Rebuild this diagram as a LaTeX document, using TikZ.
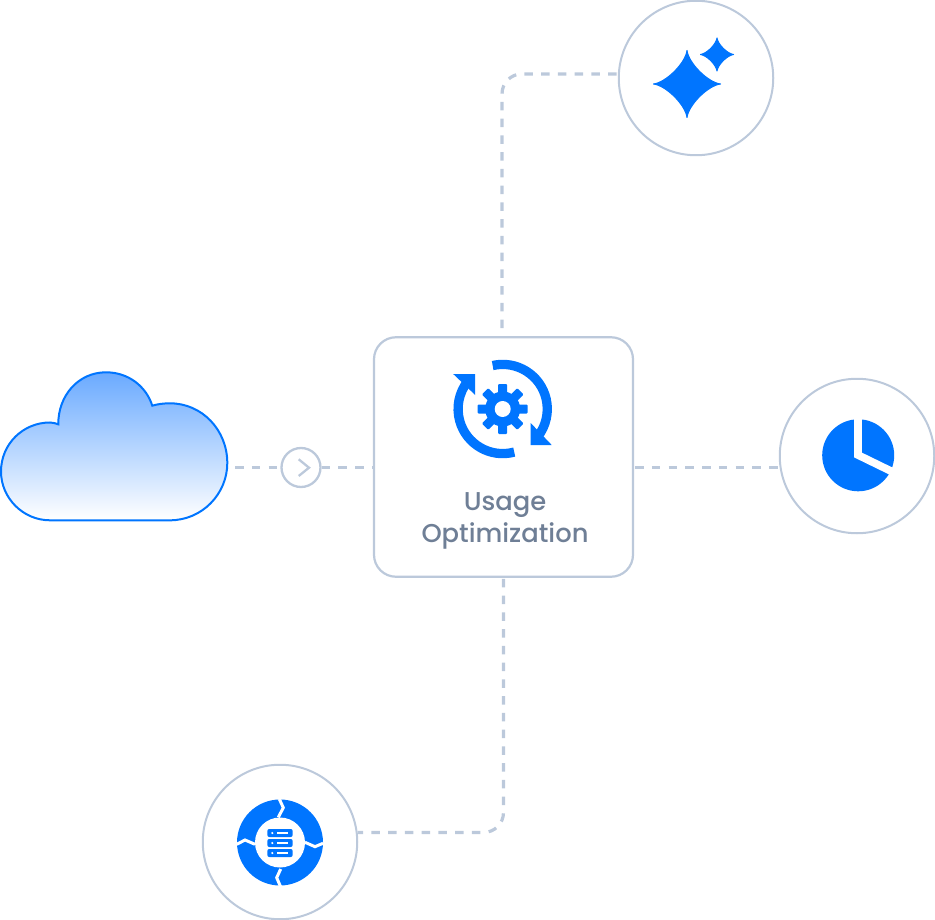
\documentclass[tikz,border=0pt]{standalone}
\usepackage{fontspec}
\setmainfont{Poppins Medium}
\usetikzlibrary{calc}
\definecolor{iconblue}{HTML}{0075FF}
\definecolor{linegray}{HTML}{BCC9DB}
\definecolor{textgray}{HTML}{6F7F96}
\definecolor{cloudtop}{HTML}{6AAAFF}
\tikzset{
	ringnode/.style={circle, draw=linegray, line width=2pt, fill=white, inner sep=0pt, minimum size=154.5pt},
	boxnode/.style={rectangle, rounded corners=22pt, draw=linegray, line width=2.2pt, fill=white, inner sep=0pt, minimum width=259pt, minimum height=239.5pt},
	chevnode/.style={circle, draw=linegray, line width=2.3pt, inner sep=0pt, minimum size=39pt},
	dashlink/.style={draw=linegray, line width=3.2pt, dash pattern=on 8.5pt off 8.25pt},
	whiteline/.style={draw=white, line width=3pt},
}
\newcommand{\sparkshape}[3]{
	\fill[iconblue, draw=iconblue, line width=1pt, line join=round] (#1,#2-#3) .. controls (#1+0.05*#3,#2-0.62*#3) and (#1+0.62*#3,#2-0.05*#3) .. (#1+#3,#2)
		.. controls (#1+0.62*#3,#2+0.05*#3) and (#1+0.05*#3,#2+0.62*#3) .. (#1,#2+#3)
		.. controls (#1-0.05*#3,#2+0.62*#3) and (#1-0.62*#3,#2+0.05*#3) .. (#1-#3,#2)
		.. controls (#1-0.62*#3,#2-0.05*#3) and (#1-0.05*#3,#2-0.62*#3) .. cycle;
}
\begin{document}
\begin{tikzpicture}[x=1pt, y=-1pt]
	\useasboundingbox (0,0) rectangle (935,920);

	\draw[draw=iconblue, line width=2pt, top color=cloudtop, bottom color=white]
		(50,520.3) .. controls (23,520.3) and (1,498) .. (1,471.5)
		.. controls (1,444) and (23,422.5) .. (50,422.5)
		.. controls (53,422.5) and (56,423.5) .. (58.3,424.3)
		.. controls (58,396) and (78,372.3) .. (106,372.3)
		.. controls (128,372.3) and (146,386) .. (152.3,405.7)
		.. controls (158,404) and (164,403.3) .. (170,403.3)
		.. controls (202,403.3) and (227.3,430) .. (227.3,463)
		.. controls (227.3,494) and (202,520.3) .. (170,520.3) -- cycle;

	\node[boxnode] (box) at (503.5,457) {};
	\node[ringnode] (spark) at (696,78) {};
	\node[ringnode] (pie) at (857,456) {};
	\node[ringnode] (db) at (280,842) {};
	\node[chevnode] (chev) at (301,467.5) {};
	\node[text=textgray, font=\fontsize{25.8}{31.5}\selectfont, align=center, inner sep=0pt] (boxlabel) at (505,521) {Usage\\Optimization};
	\coordinate (cloudout) at (235,467.5);
	\coordinate (boxin) at ($(box.west)+(1.5,10.5)$);
	\coordinate (boxout) at ($(box.east)+(1,10.5)$);
	\coordinate (boxup) at ($(box.north)+(-1.5,-8)$);
	\coordinate (boxdown) at ($(box.south)+(0,1)$);

	\draw[dashlink] (cloudout) -- (chev);
	\draw[dashlink] (chev) -- (boxin);
	\draw[dashlink] (boxout) -- (boxout -| pie.west);
	\draw[dashlink, rounded corners=20pt] (boxup) |- (spark.177);
	\draw[dashlink, rounded corners=20pt] (boxdown) |- (db.7.5);

	\draw[linegray, line width=2.3pt] (298.7,459.3) -- (309,467.7) -- (298.7,476);

	\begin{scope}[shift={(502.7,409)}, y=1pt]
		\draw[iconblue, line width=9.3pt] (103:44.6) arc (103:-38:44.6);
		\draw[iconblue, line width=9.3pt] (-75:44.6) arc (-75:-218:44.6);
		\fill[iconblue] (28,-14) -- (28,-36) -- (49,-36) -- cycle;
		\fill[iconblue] (-49.5,35) -- (-27.5,35) -- (-27.5,14) -- cycle;
		\foreach \a in {0,45,...,315}{
			\fill[iconblue, rotate=\a, rounded corners=1pt] (-4.5,0) rectangle (4.5,25);
		}
		\fill[iconblue] (0,0) circle (17.5);
		\fill[white] (0,0) circle (8);
	\end{scope}

	\sparkshape{687}{84}{33.5}
	\sparkshape{717}{54.5}{16.5}

	\fill[iconblue] (858.2,455.3) circle (36);
	\draw[white, line width=7.7pt, line join=miter] (858,415) -- (858,455) -- (899,475);

	\fill[iconblue] (280,842.5) circle (43);
	\fill[white] (280,842.5) circle (25);
	\draw[whiteline] (279.3,799) -- (283.3,807.7) -- (278.3,817.3);
	\draw[whiteline] (305,842.3) -- (315,846.7) -- (323,843.3);
	\draw[whiteline] (280.7,869) -- (276.7,877.7) -- (280.7,887);
	\draw[whiteline] (236.7,844.3) -- (245,840) -- (255,844.3);
	\foreach \y in {829,839,849}{
		\fill[iconblue, rounded corners=2pt] (267.3,\y) rectangle (292.7,\y+8);
		\fill[white] (272.3,\y+4) circle (1.2);
		\draw[white, line width=1.5pt] (277.3,\y+4) -- (288.3,\y+4);
	}
\end{tikzpicture}
\end{document}
